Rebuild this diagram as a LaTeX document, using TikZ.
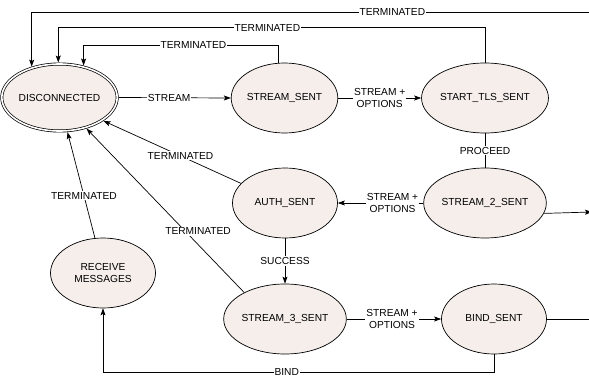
\documentclass[tikz,border=0pt]{standalone}
\usepackage{fontspec}
\setmainfont{Liberation Sans}
\usetikzlibrary{shapes.geometric, arrows.meta}
\definecolor{statefill}{RGB}{245,238,235}

\begin{document}
\begin{tikzpicture}[x=1pt, y=-1pt, >={Stealth[length=7pt, width=5pt, inset=1.5pt]}, line width=0.7pt,
        state/.style={ellipse, draw, fill=statefill, minimum width=105pt, minimum height=70pt, inner sep=0pt, align=center, font=\fontsize{10.2}{11.5}\selectfont},
        lbl/.style={fill=white, inner sep=1pt, align=center, font=\fontsize{10.2}{11.5}\selectfont}]
        \useasboundingbox (0,0) rectangle (589,377);

        \node[state, double, double distance=1.6pt, outer sep=1.5pt, minimum width=101pt, minimum height=67pt] (disc) at (59.5,97.5) {DISCONNECTED};
        \node[state] (ss) at (284.5,98) {STREAM\_SENT};
        \node[state] (stls) at (485,98) {START\_TLS\_SENT};
        \node[state] (s2) at (485,203) {STREAM\_2\_SENT};
        \node[state] (auth) at (285,203) {AUTH\_SENT};
        \node[state] (s3) at (285,319) {STREAM\_3\_SENT};
        \node[state] (bind) at (494,319) {BIND\_SENT};
        \node[state] (recv) at (103,273) {RECEIVE\\MESSAGES};

        \coordinate (offtop) at (590,12);
        \coordinate (offs2) at (592,212);
        \coordinate (offbind) at (590,319);

        \draw[->] (disc.east) -- (ss.west) node[lbl, pos=0.45] {STREAM};
        \draw[->] (ss.east) -- (stls.west) node[lbl, midway] {STREAM +\\OPTIONS};
        \draw (stls.south) -- (s2.north) node[lbl, midway] {PROCEED};
        \draw[->] (s2.west) -- (auth.east) node[lbl, pos=0.36] {STREAM +\\OPTIONS};
        \draw[->] (auth.south) -- (s3.north) node[lbl, midway] {SUCCESS};
        \draw[->] (s3.east) -- (bind.west) node[lbl, pos=0.48] {STREAM +\\OPTIONS};

        \draw[->] (offtop) -| (disc.132) node[lbl, pos=0.177] {TERMINATED};
        \draw[->] (stls.north) -- ++(0,-35) -| (disc.92) node[lbl, pos=0.255] {TERMINATED};
        \draw[->] (ss.100) -- ++(0,-18) -| (disc.53) node[lbl, pos=0.218] {TERMINATED};
        \draw[->] (auth.156) -- (disc.-28) node[lbl, pos=0.44] {TERMINATED};
        \draw[->] (s3.147) -- (disc.-49) node[lbl, pos=0.375, xshift=13pt] {TERMINATED};
        \draw[->] (recv.103) -- (disc.-77) node[lbl, pos=0.4] {TERMINATED};

        \draw[->] (bind.south) -- ++(0,18) -| (recv.south) node[lbl, pos=0.265] {BIND};
        \draw (bind.east) -- (offbind);
        \draw[->] (s2.-10) -- (offs2);
    \end{tikzpicture}
\end{document}
